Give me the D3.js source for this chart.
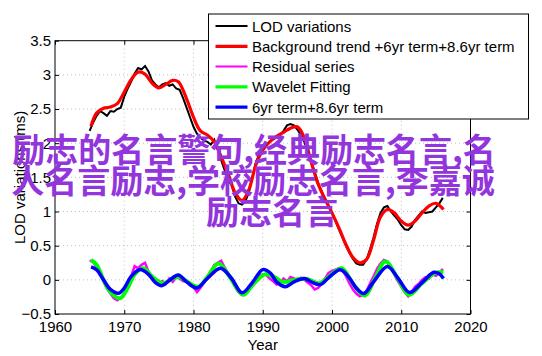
<!DOCTYPE html>
<html><head><meta charset="utf-8">
<script src="https://cdn.jsdelivr.net/npm/d3@7"></script>
<style>body{margin:0;background:#fff}svg{display:block}</style>
</head><body>
<svg id="c" width="542" height="356"></svg>
<script>
// ---- data ----
const xTicks = [1960, 1970, 1980, 1990, 2000, 2010, 2020];
const yTicks = [-0.5, 0, 0.5, 1, 1.5, 2, 2.5, 3, 3.5];
const yTickLabels = ["\u22120.5", "0", "0.5", "1", "1.5", "2", "2.5", "3", "3.5"];
const seriesNames = ["LOD variations", "Background trend +6yr term+8.6yr term", "Residual series", "Wavelet Fitting", "6yr term+8.6yr term"];
const seriesColors = ["#000000", "#ff0000", "#ff00ff", "#00ff00", "#0000ff"];

const lodYears = [1965,1965.5,1966,1966.5,1967,1967.5,1968,1968.5,1969,1969.5,1970,1970.5,1971,1971.5,1972,1972.5,1973,1973.5,1974,1974.5,1975,1975.5,1976,1976.5,1977,1977.5,1978,1978.5,1979,1979.5,1980,1980.5,1981,1981.5,1982,1982.5,1983,1983.5,1984,1984.5,1985,1985.5,1986,1986.5,1987,1987.5,1988,1988.5,1989,1989.5,1990,1990.5,1991,1991.5,1992,1992.5,1993,1993.5,1994,1994.5,1995,1995.5,1996,1996.5,1997,1997.5,1998,1998.5,1999,1999.5,2000,2000.5,2001,2001.5,2002,2002.5,2003,2003.5,2004,2004.5,2005,2005.5,2006,2006.5,2007,2007.5,2008,2008.5,2009,2009.5,2010,2010.5,2011,2011.5,2012,2012.5,2013,2013.5,2014,2014.5,2015,2015.5,2016];
const lodValues = [2.18,2.30,2.40,2.47,2.44,2.40,2.47,2.46,2.50,2.52,2.68,2.80,2.90,3.02,3.10,3.08,3.13,3.05,2.92,2.86,2.82,2.86,2.88,2.84,2.86,2.80,2.78,2.66,2.52,2.38,2.24,2.14,2.08,2.04,2.02,1.98,2.05,1.90,1.75,1.60,1.48,1.38,1.22,1.12,1.10,1.15,1.28,1.50,1.72,1.84,1.92,1.98,2.02,2.06,2.08,2.12,2.18,2.26,2.28,2.26,2.20,2.12,2.02,1.88,1.72,1.58,1.42,1.30,1.18,1.08,0.98,0.86,0.74,0.62,0.50,0.40,0.31,0.24,0.22,0.22,0.30,0.45,0.62,0.82,0.98,1.06,1.08,1.00,0.94,0.88,0.80,0.74,0.73,0.78,0.88,0.94,1.00,0.98,0.99,1.00,1.06,1.12,1.20];

const trendYears = [1965.2,1966,1967,1968,1969,1970,1971,1972,1973,1974,1975,1976,1977,1977.8,1979,1980,1981,1982,1983,1984,1985,1986,1987,1988,1989,1990,1991,1992,1993,1994,1995,1996,1997,1998,1999,2000,2001,2002,2003,2004,2005,2006,2007,2008,2009,2010,2011,2012,2013,2014,2015,2016.1];
const trendValues = [2.25,2.44,2.51,2.53,2.58,2.75,2.93,3.04,3.01,2.88,2.81,2.86,2.92,2.90,2.65,2.38,2.18,2.12,2.02,1.80,1.55,1.28,1.16,1.32,1.68,1.90,2.02,2.10,2.16,2.22,2.24,2.08,1.72,1.40,1.18,0.98,0.76,0.52,0.33,0.25,0.30,0.58,0.92,1.03,0.98,0.86,0.80,0.86,0.98,1.08,1.12,1.03];

const residualValues = [0.28,0.27,0.18,0.12,-0.02,-0.12,-0.20,-0.27,-0.30,-0.26,-0.20,-0.10,0.05,0.20,0.17,0.22,0.25,0.12,0.04,-0.04,-0.06,-0.02,-0.06,0.02,-0.03,0.04,0.02,-0.02,-0.01,-0.08,-0.10,-0.18,-0.12,-0.04,0.02,0.12,0.22,0.25,0.28,0.18,0.10,0.00,-0.10,-0.18,-0.22,-0.20,-0.14,-0.06,0.02,0.06,0.08,0.07,0.02,-0.02,-0.07,-0.05,0.02,-0.02,0.04,0.02,-0.01,0.03,0.00,-0.04,-0.08,-0.14,-0.12,-0.06,0.02,0.10,0.13,0.15,0.17,0.14,0.06,-0.05,-0.14,-0.20,-0.24,-0.22,-0.16,-0.05,0.05,0.16,0.24,0.29,0.27,0.18,0.08,-0.02,-0.10,-0.18,-0.24,-0.18,-0.10,-0.06,0.00,0.04,0.02,0.08,0.06,0.10,0.16];

const waveletYears = [1965.2,1966,1967,1968,1969.4,1970.5,1971.5,1972.8,1974,1975.6,1977,1978,1979,1980.7,1982,1983.6,1985,1987.2,1988.5,1990.3,1991.5,1993,1995,1996.5,1998.2,1999.8,2001.4,2003,2004.7,2006.2,2007.7,2009.5,2011.1,2013,2014.9,2016.1];
const waveletValues = [0.29,0.22,0.0,-0.18,-0.27,-0.12,0.08,0.17,0.05,-0.05,0.02,0.04,-0.02,-0.10,0.04,0.24,0.08,-0.22,-0.08,0.08,0.05,-0.03,0.01,0.01,-0.05,0.07,0.17,-0.05,-0.23,0.02,0.27,0.02,-0.22,-0.05,0.10,0.12];

const termYears = [1965.2,1966,1967,1968,1969.2,1970,1971,1972.3,1973.5,1974.5,1975.4,1976.5,1977.8,1979,1980.5,1982,1983.9,1985.5,1987,1988.5,1990,1991.1,1992,1993.3,1994.5,1996,1997,1998.3,1999.5,2001.2,2002.5,2003.5,2004.6,2006,2008,2009.5,2011.2,2013,2014.7,2015.5,2016.1];
const termValues = [0.19,0.15,0.0,-0.14,-0.195,-0.12,0.05,0.15,0.08,-0.04,-0.085,-0.01,0.07,-0.03,-0.12,0.02,0.17,0.02,-0.19,-0.04,0.15,0.10,-0.03,-0.10,-0.03,0.02,-0.03,-0.07,0.03,0.146,0.03,-0.12,-0.20,-0.03,0.195,0.03,-0.185,-0.04,0.11,0.09,0.02];

const watermarkLines = ["励志的名言警句,经典励志名言,名", "人名言励志,学校励志名言,李嘉诚", "励志名言"];

// ---- drawing ----
const svg = d3.select("#c");
const L = 55, R = 470.5, T = 40.7, B = 314;
const x = d3.scaleLinear().domain([1960, 2020]).range([L, R]);
const y = d3.scaleLinear().domain([-0.5, 3.5]).range([B, T]);
const font = "'Liberation Sans', Arial, Helvetica, sans-serif";
const fs = 15;

// grid
const grid = svg.append("g").attr("stroke", "#b0b0b0").attr("stroke-width", 0.8).attr("stroke-dasharray", "1,3");
grid.selectAll(".gx").data(xTicks.slice(1, -1)).join("line")
  .attr("x1", d => x(d)).attr("x2", d => x(d)).attr("y1", T).attr("y2", B);
grid.selectAll(".gy").data(yTicks.slice(1, -1)).join("line")
  .attr("y1", d => y(d)).attr("y2", d => y(d)).attr("x1", L).attr("x2", R);

// axes
const xAxisB = d3.axisBottom(x).tickValues(xTicks).tickSize(-4).tickPadding(7).tickFormat(d3.format("d"));
const xAxisT = d3.axisTop(x).tickValues(xTicks).tickSize(-4).tickFormat("");
const yAxisL = d3.axisLeft(y).tickValues(yTicks).tickSize(-4).tickPadding(4).tickFormat((d, i) => yTickLabels[i]);
const yAxisR = d3.axisRight(y).tickValues(yTicks).tickSize(-4).tickFormat("");
function styleAxis(g) {
  g.select(".domain").remove();
  g.selectAll("line").attr("stroke", "#000");
  g.selectAll("text").attr("font-family", font).attr("font-size", fs).attr("fill", "#000");
}
svg.append("g").attr("transform", `translate(0,${B})`).call(xAxisB).call(styleAxis);
svg.append("g").attr("transform", `translate(0,${T})`).call(xAxisT).call(styleAxis);
svg.append("g").attr("transform", `translate(${L},0)`).call(yAxisL).call(styleAxis);
svg.append("g").attr("transform", `translate(${R},0)`).call(yAxisR).call(styleAxis);
svg.append("rect").attr("x", L).attr("y", T).attr("width", R - L).attr("height", B - T)
  .attr("fill", "none").attr("stroke", "#000").attr("stroke-width", 1);

// labels
svg.append("text").attr("x", (L + R) / 2).attr("y", 350).attr("text-anchor", "middle")
  .attr("font-family", font).attr("font-size", fs).text("Year");
svg.append("text").attr("transform", `translate(25,${(T + B) / 2}) rotate(-90)`).attr("text-anchor", "middle")
  .attr("font-family", font).attr("font-size", fs).text("LOD variations (ms)");

// lines
const lineGen = (xs, curve) => d3.line().x((d, i) => x(xs[i])).y(d => y(d)).curve(curve);
const plot = svg.append("g");
plot.append("path").attr("d", lineGen(lodYears, d3.curveLinear)(lodValues))
  .attr("fill", "none").attr("stroke", seriesColors[0]).attr("stroke-width", 2);
plot.append("path").attr("d", lineGen(trendYears, d3.curveCatmullRom)(trendValues))
  .attr("fill", "none").attr("stroke", seriesColors[1]).attr("stroke-width", 3.2);
plot.append("path").attr("d", lineGen(lodYears, d3.curveLinear)(residualValues))
  .attr("fill", "none").attr("stroke", seriesColors[2]).attr("stroke-width", 2.5);
plot.append("path").attr("d", lineGen(waveletYears, d3.curveCatmullRom)(waveletValues))
  .attr("fill", "none").attr("stroke", seriesColors[3]).attr("stroke-width", 4);
plot.append("path").attr("d", lineGen(termYears, d3.curveCatmullRom)(termValues))
  .attr("fill", "none").attr("stroke", seriesColors[4]).attr("stroke-width", 3.5);

// legend
const lg = svg.append("g");
lg.append("rect").attr("x", 208.5).attr("y", 14).attr("width", 320).attr("height", 105)
  .attr("fill", "#fff").attr("stroke", "#000").attr("stroke-width", 1);
const lw = [2, 3.2, 2, 3.2, 3.2];
seriesNames.forEach((n, i) => {
  const yy = 26 + i * 20.3;
  lg.append("line").attr("x1", 215.5).attr("x2", 247.5).attr("y1", yy).attr("y2", yy)
    .attr("stroke", seriesColors[i]).attr("stroke-width", lw[i]);
  lg.append("text").attr("x", 252).attr("y", yy + 5.5).attr("font-family", font).attr("font-size", fs)
    .text(n);
});

// watermark
const wmX = [254, 253, 272];
const wm = svg.append("g");
watermarkLines.forEach((t, i) => {
  wm.append("text").attr("x", wmX[i]).attr("y", 162 + i * 31).attr("text-anchor", "middle")
    .attr("font-family", "'Noto Sans CJK SC', sans-serif").attr("font-weight", "bold")
    .attr("font-size", 33).attr("fill", "#9335dc").text(t);
});
</script>
</body></html>
